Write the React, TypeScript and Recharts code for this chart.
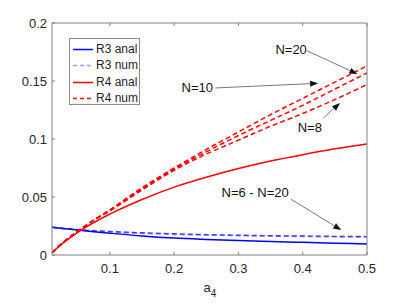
import React from 'react';
import {
  LineChart,
  Line,
  XAxis,
  YAxis,
  Legend,
  ReferenceLine,
  ReferenceDot,
} from 'recharts';

const FONT = '"Liberation Sans", Arial, Helvetica, sans-serif';
const TXT = '#262626';
const AXIS = '#808080';

const xs = [0.01, 0.03, 0.05, 0.075, 0.1, 0.15, 0.2, 0.25, 0.3, 0.35, 0.4, 0.45, 0.5];
const r3Anal = [0.0239, 0.0227, 0.0215, 0.0201, 0.0188, 0.0164, 0.0146, 0.0134, 0.0124, 0.0116, 0.0109, 0.0102, 0.0095];
const r3NumA = [0.0239, 0.0228, 0.0218, 0.021, 0.0203, 0.0192, 0.0183, 0.0176, 0.0171, 0.0167, 0.0164, 0.0161, 0.0159];
const r3NumB = [0.0239, 0.0227, 0.0216, 0.0207, 0.0199, 0.0187, 0.0178, 0.0172, 0.0167, 0.0163, 0.016, 0.0157, 0.0155];
const r4Anal = [0.002, 0.0115, 0.0195, 0.028, 0.0352, 0.0478, 0.0585, 0.067, 0.0745, 0.081, 0.0865, 0.0915, 0.0957];
const r4N20 = [0.002, 0.012, 0.0205, 0.03, 0.039, 0.058, 0.075, 0.091, 0.106, 0.121, 0.135, 0.149, 0.163];
const r4N10 = [0.002, 0.012, 0.0205, 0.03, 0.0385, 0.057, 0.074, 0.089, 0.103, 0.116, 0.129, 0.143, 0.157];
const r4N8 = [0.002, 0.012, 0.0205, 0.03, 0.038, 0.056, 0.073, 0.087, 0.099, 0.111, 0.122, 0.134, 0.147];

const xTicks = [0.1, 0.2, 0.3, 0.4, 0.5];
const yTicks = [0, 0.05, 0.1, 0.15, 0.2];

const legendItems = [
  { name: 'R3 anal', color: '#0000ff', dash: '' },
  { name: 'R3 num', color: '#9a9aff', dash: '4 3' },
  { name: 'R4 anal', color: '#ff0000', dash: '' },
  { name: 'R4 num', color: '#ff0000', dash: '4 3' },
];

// annotation labels and arrows, in data units
const notes = [
  { text: 'N=20', x: 0.382, y: 0.177, from: [0.407, 0.176], to: [0.485, 0.156] },
  { text: 'N=10', x: 0.236, y: 0.144, from: [0.264, 0.144], to: [0.424, 0.148] },
  { text: 'N=8', x: 0.411, y: 0.11, from: [0.432, 0.118], to: [0.458, 0.131] },
  { text: 'N=6 - N=20', x: 0.326, y: 0.054, from: [0.382, 0.048], to: [0.46, 0.0215] },
];

const data = xs.map((x, i) => ({
  x,
  r3Anal: r3Anal[i],
  r3NumA: r3NumA[i],
  r3NumB: r3NumB[i],
  r4Anal: r4Anal[i],
  r4N20: r4N20[i],
  r4N10: r4N10[i],
  r4N8: r4N8[i],
}));

const BottomTick = (p: any) => (
  <g>
    <line x1={p.x} y1={p.y} x2={p.x} y2={p.y - 3} stroke={AXIS} />
    <text x={p.x} y={p.y + 18} textAnchor="middle" fontSize={13} fill={TXT} fontFamily={FONT}>
      {String(p.payload.value)}
    </text>
  </g>
);
const LeftTick = (p: any) => (
  <g>
    <line x1={p.x} y1={p.y} x2={p.x + 3} y2={p.y} stroke={AXIS} />
    <text x={p.x - 5} y={p.y + 4.5} textAnchor="end" fontSize={13} fill={TXT} fontFamily={FONT}>
      {String(p.payload.value)}
    </text>
  </g>
);
const TopTick = (p: any) => <line x1={p.x} y1={p.y} x2={p.x} y2={p.y + 3} stroke={AXIS} />;
const RightTick = (p: any) => <line x1={p.x} y1={p.y} x2={p.x - 3} y2={p.y} stroke={AXIS} />;

const arrowShape = (p: any) => {
  const { x1, y1, x2, y2 } = p;
  const a = Math.atan2(y2 - y1, x2 - x1);
  const L = 8;
  const W = 3;
  const bx = x2 - L * Math.cos(a);
  const by = y2 - L * Math.sin(a);
  const px = -Math.sin(a) * W;
  const py = Math.cos(a) * W;
  return (
    <g>
      <line x1={x1} y1={y1} x2={bx} y2={by} stroke="#555" strokeWidth={0.8} />
      <polygon points={`${x2},${y2} ${bx + px},${by + py} ${bx - px},${by - py}`} fill="#111" />
    </g>
  );
};

const noteText = (text: string) => (p: any) => (
  <text x={p.cx} y={p.cy + 4.5} textAnchor="middle" fontSize={13} fill="#111" fontFamily={FONT}>
    {text}
  </text>
);

const renderLegend = () => (
  <div
    style={{
      position: 'absolute',
      left: 69,
      top: 38,
      width: 71,
      height: 67,
      border: '1px solid #8a8a8a',
      background: '#fff',
      fontFamily: FONT,
      fontSize: 12,
      color: TXT,
      paddingTop: 2,
      boxSizing: 'border-box',
    }}
  >
    {legendItems.map((it) => (
      <div key={it.name} style={{ display: 'flex', alignItems: 'center', height: 16.3, lineHeight: '16px' }}>
        <svg width={26} height={16} style={{ flex: 'none' }}>
          <line x1={3} y1={8.5} x2={23} y2={8.5} stroke={it.color} strokeWidth={1.5} strokeDasharray={it.dash} />
        </svg>
        <span style={{ whiteSpace: 'nowrap' }}>{it.name}</span>
      </div>
    ))}
  </div>
);

const xLabel = (p: any) => {
  const vb = p.viewBox || {};
  const cx = vb.x + vb.width / 2;
  return (
    <text x={cx - 6} y={vb.y + 37} fontSize={13} fill={TXT} fontFamily={FONT}>
      <tspan>a</tspan>
      <tspan fontSize={10} dy={5}>4</tspan>
    </text>
  );
};

export default function App() {
  return (
    <div style={{ position: 'absolute', left: 0, top: 0, width: 407, height: 305, background: '#fff' }}>
      <LineChart width={407} height={305} data={data} margin={{ top: 22, right: 39, bottom: 49, left: 51 }}>
        <XAxis
          dataKey="x"
          type="number"
          domain={[0.01, 0.5]}
          ticks={xTicks}
          allowDataOverflow
          height={1}
          tickSize={0}
          tickMargin={0}
          tick={BottomTick}
          axisLine={{ stroke: AXIS }}
          label={xLabel}
        />
        <XAxis
          xAxisId="top"
          orientation="top"
          dataKey="x"
          type="number"
          domain={[0.01, 0.5]}
          ticks={xTicks}
          allowDataOverflow
          height={1}
          tickSize={0}
          tickMargin={0}
          tick={TopTick}
          axisLine={{ stroke: AXIS }}
        />
        <YAxis
          type="number"
          domain={[0, 0.2]}
          ticks={yTicks}
          width={1}
          tickSize={0}
          tickMargin={0}
          tick={LeftTick}
          axisLine={{ stroke: AXIS }}
        />
        <YAxis
          yAxisId="right"
          orientation="right"
          type="number"
          domain={[0, 0.2]}
          ticks={yTicks}
          width={1}
          tickSize={0}
          tickMargin={0}
          tick={RightTick}
          axisLine={{ stroke: AXIS }}
        />
        <Legend layout="vertical" align="center" verticalAlign="middle" content={renderLegend} wrapperStyle={{ position: 'absolute', left: 0, top: 0, width: 0, height: 0 }} />
        <Line type="monotone" dataKey="r3NumB" stroke="#8c8cff" strokeWidth={1.6} strokeDasharray="5 3" dot={false} isAnimationActive={false} />
        <Line type="monotone" dataKey="r3NumA" stroke="#3a3aff" strokeWidth={1.3} strokeDasharray="5 3" dot={false} isAnimationActive={false} />
        <Line type="monotone" dataKey="r3Anal" stroke="#0000ff" strokeWidth={1.5} dot={false} isAnimationActive={false} />
        <Line type="monotone" dataKey="r4Anal" stroke="#ff0000" strokeWidth={1.5} dot={false} isAnimationActive={false} />
        <Line type="monotone" dataKey="r4N8" stroke="#ff0000" strokeWidth={1.5} strokeDasharray="5 3" dot={false} isAnimationActive={false} />
        <Line type="monotone" dataKey="r4N10" stroke="#ff0000" strokeWidth={1.5} strokeDasharray="5 3" dot={false} isAnimationActive={false} />
        <Line type="monotone" dataKey="r4N20" stroke="#ff0000" strokeWidth={1.5} strokeDasharray="5 3" dot={false} isAnimationActive={false} />
        {notes.map((n) => (
          <ReferenceLine
            key={'a' + n.text}
            segment={[
              { x: n.from[0], y: n.from[1] },
              { x: n.to[0], y: n.to[1] },
            ]}
            shape={arrowShape}
          />
        ))}
        {notes.map((n) => (
          <ReferenceDot key={'t' + n.text} x={n.x} y={n.y} r={0} shape={noteText(n.text)} />
        ))}
      </LineChart>
    </div>
  );
}
